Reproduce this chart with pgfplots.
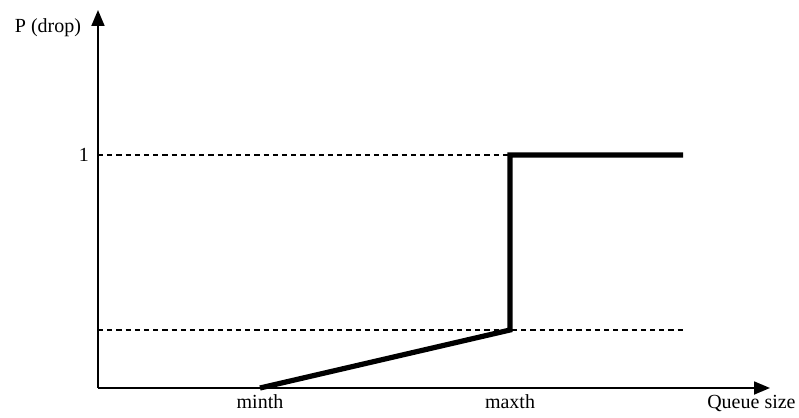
\documentclass[border=0pt]{standalone}
\usepackage{fontspec}
\setmainfont{Liberation Serif}
\usepackage{pgfplots}
\pgfplotsset{compat=1.18}
\usetikzlibrary{arrows.meta}
\begin{document}
\begin{tikzpicture}
\begin{axis}[
  scale only axis, width=336pt, height=189pt,
  xmin=0, xmax=672, ymin=0, ymax=378,
  axis lines=left,
  axis line style={line width=0.9pt, -{Triangle[length=8pt,width=6.5pt]}},
  xtick={162,412}, xticklabels={minth,maxth},
  ytick={233}, yticklabels={1},
  major tick length=0pt,
  xticklabel style={yshift=-1pt, anchor=base, yshift=-9pt},
  yticklabel style={xshift=-1pt},
  tick label style={font=\fontsize{10}{12}\selectfont},
  /pgf/number format/assume math mode=true,
  clip=false,
]
\addplot[black, line width=0.8pt, dash pattern=on 2.6pt off 2pt] coordinates {(0,233) (585,233)};
\addplot[black, line width=0.8pt, dash pattern=on 2.6pt off 2pt] coordinates {(0,58) (585,58)};
\addplot[black, line width=2.6pt, line join=miter] coordinates {(162,0) (412,58) (412,233) (585,233)};
\node[font=\fontsize{10}{12}\selectfont] at (axis cs:-50,360) {P (drop)};
\node[font=\fontsize{10}{12}\selectfont, anchor=base east, inner sep=1pt] at (axis cs:700,-20) {Queue size};
\coordinate (bbA) at (axis cs:-98,-30);
\coordinate (bbB) at (axis cs:701,388);
\end{axis}
\pgfresetboundingbox
\useasboundingbox (bbA) rectangle (bbB);
\end{tikzpicture}
\end{document}
